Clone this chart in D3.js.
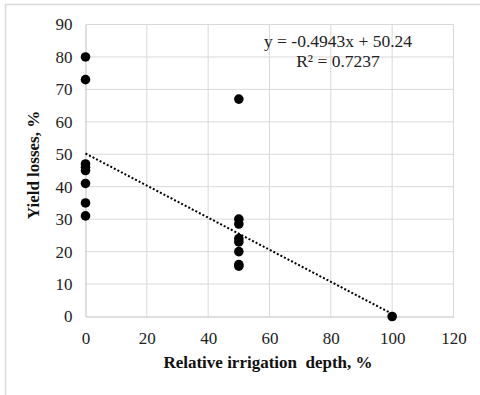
<!DOCTYPE html>
<html><head><meta charset="utf-8">
<script src="https://cdn.jsdelivr.net/npm/d3@7/dist/d3.min.js"></script>
<style>body{margin:0;background:#fff}svg{display:block}</style>
</head><body>
<svg id="c" width="480" height="395"></svg>
<script>
const xValues = [0,0,0,0,0,0,0,0, 50,50,50,50,50,50,50,50, 100];
const yValues = [80,73,47,46,45,41,35,31, 67,30,28.5,24,23,20,16,15.5, 0];
const xTicks = [0,20,40,60,80,100,120];
const yTicks = [0,10,20,30,40,50,60,70,80,90];
const trendSlope = -0.4943;
const trendIntercept = 50.24;
const trendRange = [0,100];
const equationText = ["y = -0.4943x + 50.24", "R² = 0.7237"];
const xTitle = "Relative irrigation  depth, %";
const yTitle = "Yield losses, %";

const svg = d3.select("#c");
const font = "'Liberation Serif','Times New Roman',serif";
const x = d3.scaleLinear().domain([0,120]).range([85.5,453.5]);
const y = d3.scaleLinear().domain([0,90]).range([316.5,24.5]);

// chart frame
svg.append("rect").attr("x",5.5).attr("y",4.5).attr("width",490).attr("height",400)
  .attr("fill","none").attr("stroke","#d9d9d9").attr("stroke-width",1.5);

// gridlines
svg.append("g").selectAll("line").data(yTicks.filter(d=>d>0)).join("line")
  .attr("x1",x(0)).attr("x2",x(120)).attr("y1",d=>y(d)).attr("y2",d=>y(d))
  .attr("stroke","#d9d9d9").attr("stroke-width",1);
svg.append("g").selectAll("line").data(xTicks.filter(d=>d>0)).join("line")
  .attr("y1",y(0)).attr("y2",y(90)).attr("x1",d=>x(d)).attr("x2",d=>x(d))
  .attr("stroke","#d9d9d9").attr("stroke-width",1);

// axes
const xAxis = svg.append("g").attr("transform",`translate(0,${y(0)})`)
  .call(d3.axisBottom(x).tickValues(xTicks).tickSize(0).tickPadding(15));
const yAxis = svg.append("g").attr("transform",`translate(${x(0)},0)`)
  .call(d3.axisLeft(y).tickValues(yTicks).tickSize(0).tickPadding(13));
[xAxis,yAxis].forEach(a=>{
  a.attr("font-family",font).attr("font-size",17);
  a.select(".domain").attr("stroke","#bfbfbf").attr("stroke-width",1);
  a.selectAll("text").attr("font-family",font).attr("font-size",17).attr("fill","#222");
});

// trendline
svg.append("line")
  .attr("x1",x(trendRange[0])).attr("y1",y(trendIntercept+trendSlope*trendRange[0]))
  .attr("x2",x(trendRange[1])).attr("y2",y(trendIntercept+trendSlope*trendRange[1]))
  .attr("stroke","#000").attr("stroke-width",2).attr("stroke-dasharray","2,2");

// points
svg.append("g").selectAll("circle").data(xValues.map((d,i)=>[d,yValues[i]])).join("circle")
  .attr("cx",d=>x(d[0])).attr("cy",d=>y(d[1])).attr("r",4.8).attr("fill","#000");

// equation
svg.append("g").selectAll("text").data(equationText).join("text")
  .attr("x",338).attr("y",(d,i)=>47+i*20).attr("text-anchor","middle")
  .attr("font-family",font).attr("font-size",17.5).attr("fill","#222").text(d=>d);

// titles
svg.append("text").attr("x",268).attr("y",368).attr("text-anchor","middle")
  .attr("font-family",font).attr("font-size",17).attr("font-weight","bold")
  .style("white-space","pre").attr("fill","#111").text(xTitle);
svg.append("text").attr("transform","translate(39,165) rotate(-90)").attr("text-anchor","middle")
  .attr("font-family",font).attr("font-size",17).attr("font-weight","bold")
  .attr("fill","#111").text(yTitle);
</script>
</body></html>
